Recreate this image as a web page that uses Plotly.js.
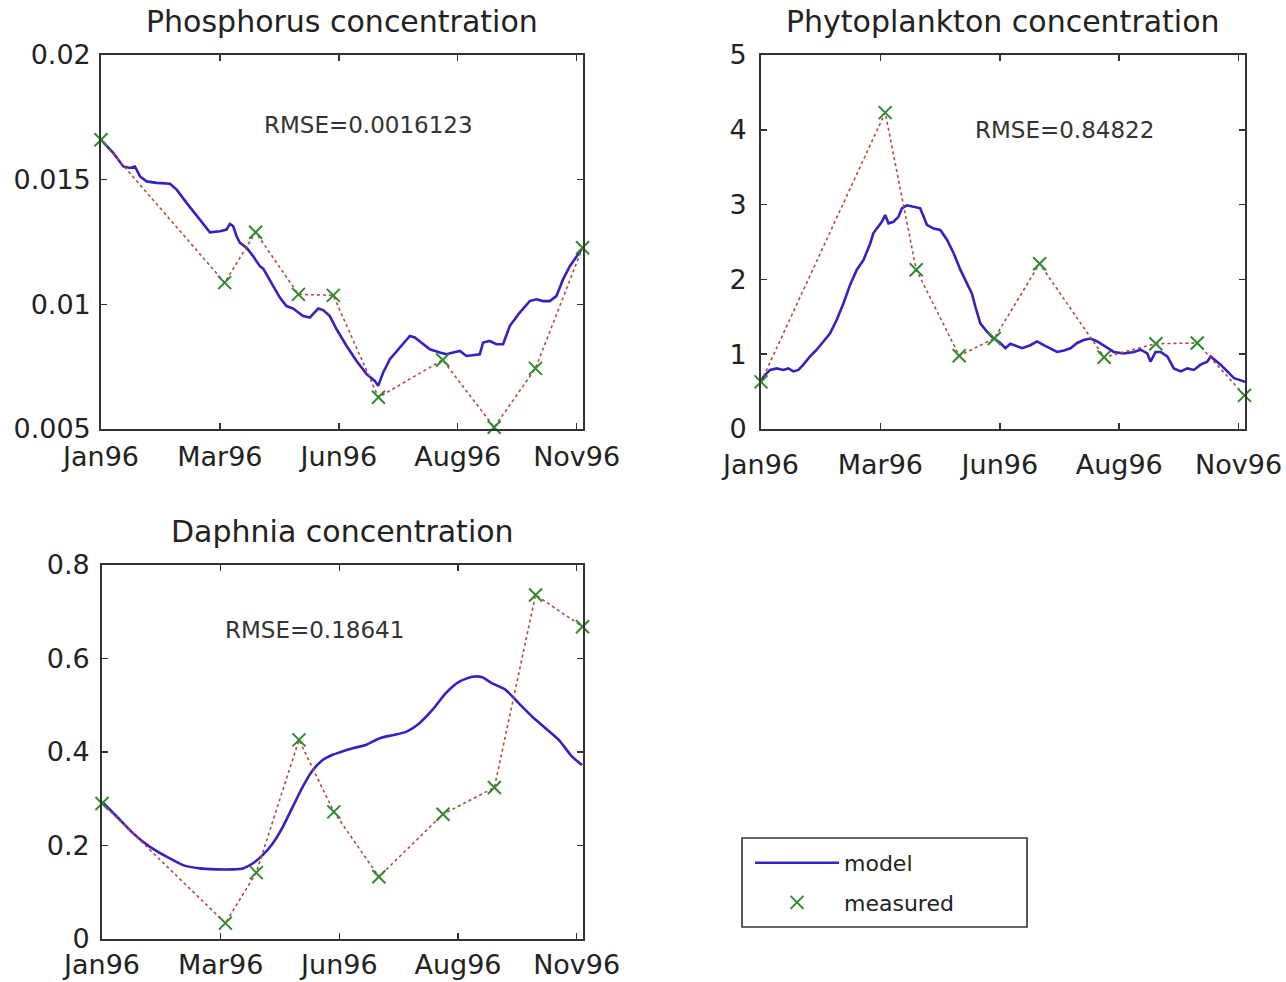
<!DOCTYPE html>
<html>
<head>
<meta charset="utf-8">
<script src="https://cdn.plot.ly/plotly-3.0.1.min.js"></script>
<style>html,body{margin:0;padding:0;background:#fff;}#chart{width:1286px;height:982px;}</style>
</head>
<body>
<div id="chart"></div>
<script>
// ---------- data (day numbers along the 1996 time axis) ----------
const tickDays = [10, 85, 160, 235, 310];
const tickLabels = ['Jan96', 'Mar96', 'Jun96', 'Aug96', 'Nov96'];

const measuredDays = [10, 88, 107.5, 134.5, 156.5, 185, 225.5, 258, 284, 313.7];
const phosphorusMeasured = [0.0166, 0.01087, 0.01289, 0.0104, 0.01036, 0.00627, 0.00777, 0.00507, 0.00743, 0.01227];
const phytoplanktonMeasured = [0.63, 4.23, 2.13, 0.98, 1.21, 2.21, 0.96, 1.14, 1.15, 0.45];
const daphniaMeasured = [0.290, 0.034, 0.142, 0.426, 0.272, 0.133, 0.267, 0.324, 0.736, 0.668];

const phosphorusModelDays = [10,17.8,24.1,28.3,31.4,34.6,38.8,45.1,53.5,57.7,64.0,72.4,78.7,85.0,89.2,91.3,93.4,95.5,97.6,101.8,106.0,110.2,112.3,114.4,118.6,122.8,127.0,131.2,137.5,141.7,147.0,150.1,154.3,158.6,164.9,171.2,177.5,182.7,184.8,188.0,192.2,198.5,204.8,207.9,213.1,217.4,223.7,227.9,232.1,236.3,240.5,244.7,248.9,251.0,255.2,259.4,263.6,267.8,274.1,280.4,284.6,288.8,293.0,297.2,301.4,305.7,309.9,313.0];
const phosphorusModel = [0.01660,0.01607,0.01553,0.01547,0.01553,0.01513,0.01493,0.01487,0.01484,0.01460,0.01407,0.01340,0.01289,0.01293,0.01300,0.01323,0.01313,0.01273,0.01247,0.01227,0.01193,0.01153,0.01143,0.01120,0.01073,0.01027,0.00993,0.00983,0.00953,0.00947,0.00983,0.00977,0.00953,0.00900,0.00833,0.00773,0.00720,0.00693,0.00673,0.00727,0.00780,0.00827,0.00873,0.00867,0.00840,0.00820,0.00807,0.00800,0.00807,0.00813,0.00793,0.00796,0.00800,0.00847,0.00853,0.00840,0.00840,0.00913,0.00967,0.01013,0.01020,0.01013,0.01013,0.01033,0.01100,0.01153,0.01193,0.01220];

const phytoplanktonModelDays = [10,11.5,15.7,19.9,24.0,27.2,30.3,33.5,36.6,40.8,45.0,49.2,53.4,57.6,61.8,66.0,70.2,74.4,78.6,80.6,82.8,85.9,88.0,90.1,93.2,96.4,98.5,101.6,105.8,110.0,112.1,114.2,118.4,122.6,126.8,131.0,135.2,139.4,142.5,144.6,147.8,152.0,155.1,160.3,163.5,166.6,169.8,174.0,179.2,183.4,187.6,191.8,196.0,200.2,204.4,208.6,212.7,216.9,221.2,226.4,231.6,237.9,244.2,248.4,252.6,254.7,257.8,261.0,265.2,269.3,273.6,277.8,281.9,286.1,290.3,292.4,295.6,298.7,302.9,307.1,311.3,314];
const phytoplanktonModel = [0.63,0.70,0.79,0.81,0.79,0.81,0.77,0.79,0.86,0.97,1.06,1.17,1.28,1.46,1.68,1.93,2.13,2.26,2.48,2.62,2.68,2.77,2.86,2.75,2.77,2.84,2.95,2.99,2.97,2.95,2.84,2.73,2.68,2.66,2.53,2.35,2.13,1.95,1.81,1.64,1.41,1.30,1.23,1.15,1.08,1.14,1.11,1.08,1.12,1.17,1.12,1.08,1.03,1.05,1.08,1.15,1.19,1.21,1.17,1.10,1.03,1.01,1.03,1.06,1.01,0.90,1.03,1.03,0.97,0.81,0.77,0.81,0.79,0.86,0.90,0.97,0.92,0.86,0.77,0.68,0.65,0.63];

const daphniaModelDays = [10,19.3,29.7,40.3,50.8,61.3,71.8,82.3,92.8,99.1,105.4,111.7,118.0,124.3,130.6,136.9,143.2,149.5,155.8,160.0,168.4,176.8,185.2,193.6,202.1,210.4,218.8,227.3,235.6,244.0,250.3,256.6,265.1,273.5,281.8,290.3,298.7,307.1,313.4];
const daphniaModel = [0.294,0.262,0.226,0.197,0.176,0.158,0.151,0.149,0.149,0.151,0.162,0.180,0.205,0.240,0.283,0.326,0.361,0.383,0.394,0.399,0.408,0.415,0.429,0.436,0.443,0.461,0.490,0.526,0.550,0.561,0.560,0.547,0.533,0.504,0.476,0.451,0.426,0.390,0.372];

const panelTitles = ['Phosphorus concentration', 'Phytoplankton concentration', 'Daphnia concentration'];
const rmseTexts = ['RMSE=0.0016123', 'RMSE=0.84822', 'RMSE=0.18641'];
const seriesNames = ['model', 'measured'];

// ---------- styling ----------
const FONT = 'DejaVu Sans, Arial, sans-serif';
const MODEL_COLOR = '#3322c0';
const DOT_COLOR = '#b8473c';
const MARK_COLOR = '#2f8a2f';

function panelTraces(xa, ya, mDays, mVals, measVals, legend, smooth) {
  return [
    {x: mDays, y: mVals, xaxis: xa, yaxis: ya, type: 'scatter', mode: 'lines',
     name: seriesNames[0], showlegend: legend, legendgroup: 'model',
     line: {color: MODEL_COLOR, width: 2.6, shape: smooth ? 'spline' : 'linear', smoothing: 0.6}},
    {x: measuredDays, y: measVals, xaxis: xa, yaxis: ya, type: 'scatter', mode: 'lines',
     showlegend: false, hoverinfo: 'skip', cliponaxis: false,
     line: {color: DOT_COLOR, width: 1.6, dash: 'dot'}},
    {x: measuredDays, y: measVals, xaxis: xa, yaxis: ya, type: 'scatter', mode: 'markers',
     name: seriesNames[1], showlegend: legend, legendgroup: 'measured', cliponaxis: false,
     marker: {symbol: 'x-thin', size: 13, color: MARK_COLOR, line: {color: MARK_COLOR, width: 2}}}
  ];
}

const data = [].concat(
  panelTraces('x', 'y', phosphorusModelDays, phosphorusModel, phosphorusMeasured, true, false),
  panelTraces('x2', 'y2', phytoplanktonModelDays, phytoplanktonModel, phytoplanktonMeasured, false, false),
  panelTraces('x3', 'y3', daphniaModelDays, daphniaModel, daphniaMeasured, false, true)
);

function xAxis(domain, anchor, standoff) {
  return {domain: domain, anchor: anchor, range: [10, 314], tickmode: 'array',
    tickvals: tickDays, ticktext: tickLabels, ticks: 'inside', ticklen: 6, tickwidth: 1.5,
    tickcolor: '#333', showline: true, linecolor: '#333', linewidth: 1.8, mirror: 'ticks',
    showgrid: false, zeroline: false, ticklabelstandoff: standoff,
    tickfont: {family: FONT, size: 27, color: '#222'}};
}
function yAxis(domain, anchor, range, dtick, standoff) {
  return {domain: domain, anchor: anchor, range: range, dtick: dtick, tick0: range[0],
    ticks: 'inside', ticklen: 6, tickwidth: 1.5, tickcolor: '#333',
    showline: true, linecolor: '#333', linewidth: 1.8, mirror: 'ticks',
    showgrid: false, zeroline: false, ticklabelstandoff: standoff,
    tickfont: {family: FONT, size: 27, color: '#222'}};
}

const W = 1286, H = 982;
const dx = (a, b) => [a / W, b / W];
const dy = (top, bottom) => [(H - bottom) / H, (H - top) / H];

const layout = {
  width: W, height: H,
  margin: {l: 0, r: 0, t: 0, b: 0},
  paper_bgcolor: '#fff', plot_bgcolor: '#fff',
  font: {family: FONT, color: '#222'},
  showlegend: true,
  xaxis: xAxis(dx(101, 583), 'y', 3),
  yaxis: yAxis(dy(55, 429), 'x', [0.005, 0.02], 0.005, 3),
  xaxis2: xAxis(dx(761, 1245), 'y2', 11),
  yaxis2: yAxis(dy(55, 429), 'x2', [0, 5], 1, 7),
  xaxis3: xAxis(dx(102, 583), 'y3', 1),
  yaxis3: yAxis(dy(565, 939), 'x3', [0, 0.8], 0.2, 5),
  legend: {x: 750 / W, y: (H - 842) / H, xanchor: 'left', yanchor: 'top',
    bgcolor: 'rgba(0,0,0,0)', borderwidth: 0,
    font: {family: FONT, size: 22, color: '#222'}, traceorder: 'grouped', tracegroupgap: 8,
    itemwidth: 84},
  shapes: [
    {type: 'rect', xref: 'paper', yref: 'paper', x0: 742 / W, x1: 1027 / W,
     y0: (H - 927) / H, y1: (H - 838) / H, line: {color: '#333', width: 1.6}, fillcolor: 'rgba(0,0,0,0)', layer: 'below'}
  ],
  annotations: [
    {text: panelTitles[0], xref: 'x domain', yref: 'y domain', x: 0.5, y: 1, yanchor: 'bottom', yshift: 14, showarrow: false, font: {family: FONT, size: 30, color: '#222'}},
    {text: panelTitles[1], xref: 'x2 domain', yref: 'y2 domain', x: 0.5, y: 1, yanchor: 'bottom', yshift: 14, showarrow: false, font: {family: FONT, size: 30, color: '#222'}},
    {text: panelTitles[2], xref: 'x3 domain', yref: 'y3 domain', x: 0.5, y: 1, yanchor: 'bottom', yshift: 14, showarrow: false, font: {family: FONT, size: 30, color: '#222'}},
    {text: rmseTexts[0], xref: 'x domain', yref: 'y domain', x: 0.554, y: 0.853, showarrow: false, font: {family: FONT, size: 23, color: '#333'}},
    {text: rmseTexts[1], xref: 'x2 domain', yref: 'y2 domain', x: 0.628, y: 0.840, showarrow: false, font: {family: FONT, size: 23, color: '#333'}},
    {text: rmseTexts[2], xref: 'x3 domain', yref: 'y3 domain', x: 0.2516, y: 0.866, showarrow: false, font: {family: FONT, size: 23, color: '#333'}}
  ]
};

Plotly.newPlot('chart', data, layout, {staticPlot: true, displayModeBar: false});
</script>
</body>
</html>
